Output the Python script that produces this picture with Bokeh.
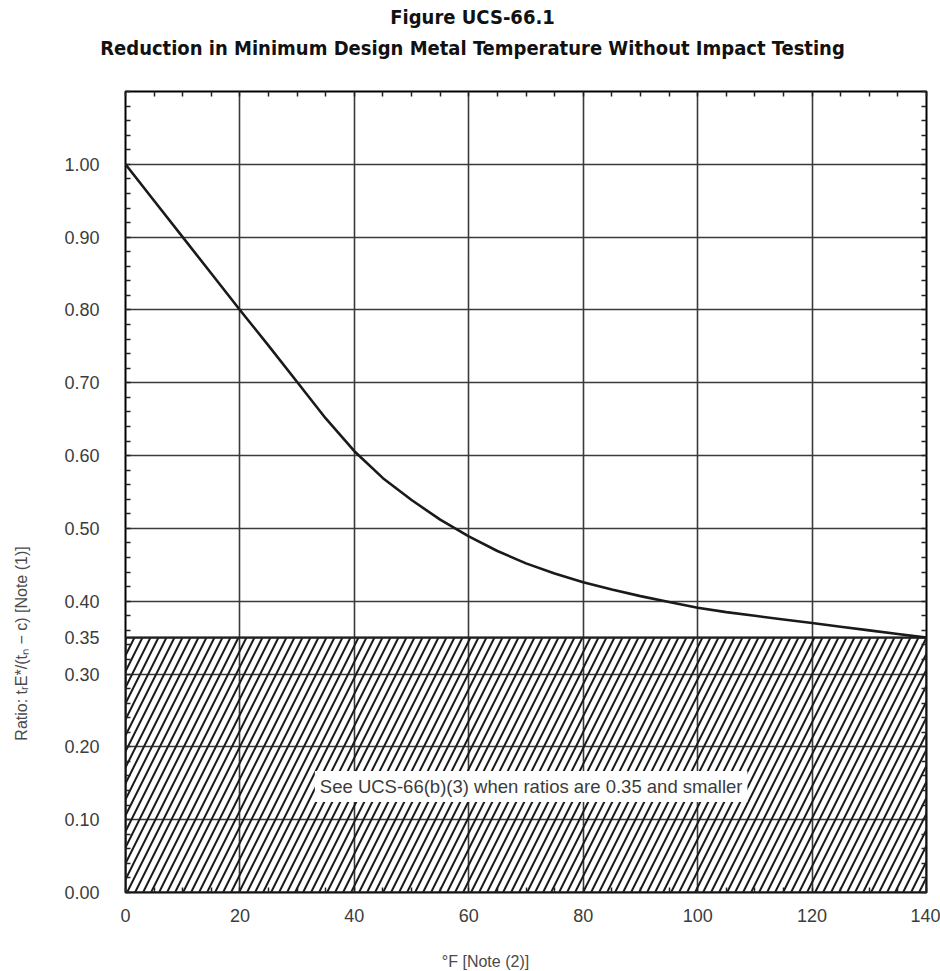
import math
from bokeh.plotting import figure
from bokeh.models import (FixedTicker, LinearAxis, Label, PrintfTickFormatter, Range1d, Grid)
from bokeh.embed import file_html
from bokeh.resources import INLINE

# ---- data ----
temp_f = [0, 5, 10, 15, 20, 25, 30, 35, 40, 45, 50, 55, 60, 65, 70, 75, 80, 85, 90, 95,
          100, 105, 110, 115, 120, 125, 130, 135, 140]
ratio = [1.00, 0.95, 0.90, 0.85, 0.80, 0.751, 0.701, 0.651, 0.606, 0.569, 0.539, 0.512,
         0.489, 0.469, 0.452, 0.438, 0.426, 0.416, 0.407, 0.399, 0.391, 0.385, 0.380,
         0.375, 0.370, 0.365, 0.360, 0.355, 0.350]
x_major = [0, 20, 40, 60, 80, 100, 120, 140]
y_major = [0.0, 0.1, 0.2, 0.3, 0.35, 0.4, 0.5, 0.6, 0.7, 0.8, 0.9, 1.0]
x_minor = list(range(0, 141, 5))
y_minor = [round(i * 0.02, 2) for i in range(0, 56)]
hatch_limit = 0.35
title1 = "Figure UCS-66.1"
title2 = "Reduction in Minimum Design Metal Temperature Without Impact Testing"
y_title = "Ratio: tᵣE*/(tₙ − c) [Note (1)]"
x_title = "°F [Note (2)]"
note = "See UCS-66(b)(3) when ratios are 0.35 and smaller"

W, H = 940, 971
L, R, T, B = 125, 14, 91, 79
X0, X1, Y0, Y1 = 0, 140, 0, 1.1

p = figure(width=W, height=H, output_backend="svg", toolbar_location=None,
           x_range=Range1d(X0, X1), y_range=Range1d(Y0, Y1),
           min_border_left=L, min_border_right=R, min_border_top=T, min_border_bottom=B,
           x_axis_type=None, y_axis_type=None)
p.outline_line_color = "black"
p.outline_line_width = 2
p.background_fill_color = "white"
p.border_fill_color = "white"

xt = FixedTicker(ticks=x_major, minor_ticks=x_minor)
yt = FixedTicker(ticks=y_major, minor_ticks=y_minor)
xt_minor_only = FixedTicker(ticks=[], minor_ticks=x_minor)
yt_minor_only = FixedTicker(ticks=[], minor_ticks=y_minor)

tick_font = "Liberation Sans"
for side, ticker in (("below", xt), ("above", xt_minor_only), ("left", yt), ("right", yt_minor_only)):
    ax = LinearAxis(ticker=ticker)
    ax.axis_line_color = None
    ax.major_tick_in = 0
    ax.major_tick_out = 0
    ax.minor_tick_in = 5
    ax.minor_tick_out = 0
    ax.minor_tick_line_color = "#222222"
    ax.minor_tick_line_width = 1.5
    ax.major_label_text_font = tick_font
    ax.major_label_text_font_size = "18px"
    ax.major_label_text_color = "#3c3c3c"
    if side == "left":
        ax.formatter = PrintfTickFormatter(format="%.2f")
        ax.major_label_standoff = 26
    elif side == "below":
        ax.formatter = PrintfTickFormatter(format="%d")
        ax.major_label_standoff = 16
    p.add_layout(ax, side)

p.add_layout(Grid(dimension=0, ticker=xt, grid_line_color="#3a3a3a", grid_line_width=1.6))
p.add_layout(Grid(dimension=1, ticker=yt, grid_line_color="#3a3a3a", grid_line_width=1.6))

# hatched region below 0.35
p.quad(left=[X0], right=[X1], bottom=[Y0], top=[hatch_limit], fill_alpha=0,
       line_color="#222222", line_width=2.2,
       hatch_pattern="/", hatch_color="#1a1a1a", hatch_scale=16, hatch_weight=2)

# curve
p.line(temp_f, ratio, line_color="#1a1a1a", line_width=2.6, line_join="round")

title_font = "Liberation Sans Narrow, DejaVu Sans Condensed, sans-serif"
common = dict(x_units="canvas", y_units="canvas", text_baseline="middle", text_align="center")
p.add_layout(Label(x=472, y=16, text=title1,
                   text_font=title_font, text_font_style="bold", text_font_size="20px",
                   text_color="#111111", **common), "above")
p.add_layout(Label(x=472, y=47, text=title2,
                   text_font=title_font, text_font_style="bold", text_font_size="20px",
                   text_color="#111111", **common), "above")
p.add_layout(Label(x=21, y=643, text=y_title, angle=math.pi / 2,
                   text_font=tick_font, text_font_size="16px", text_color="#4a4a4a", **common), "left")
p.add_layout(Label(x=485, y=961, text=x_title,
                   text_font=tick_font, text_font_size="16px", text_color="#4a4a4a", **common), "below")
p.add_layout(Label(x=70.9, y=0.1456, text=note, text_align="center", text_baseline="middle",
                   text_font=tick_font, text_font_size="18.5px", text_color="#3c3c3c",
                   background_fill_color="white", padding=5))

open("out.html", "w").write(file_html(p, INLINE))
